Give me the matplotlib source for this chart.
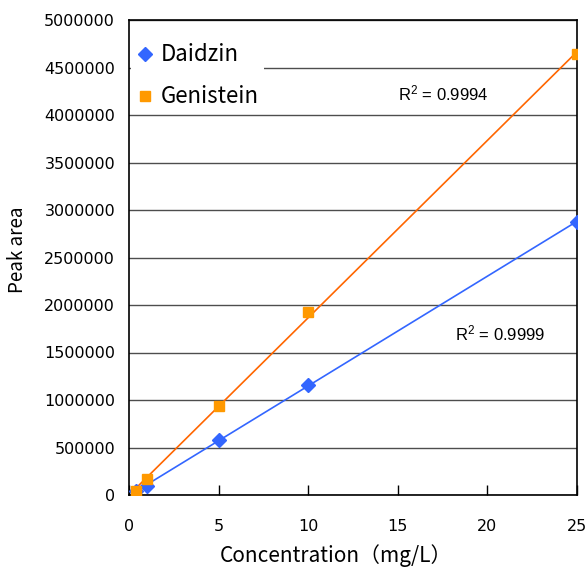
import numpy as np
import matplotlib
matplotlib.use('Agg')
import matplotlib.pyplot as plt

plt.rcParams['font.family'] = ['Noto Sans CJK JP', 'DejaVu Sans']
plt.rcParams['mathtext.fontset'] = 'custom'
plt.rcParams['mathtext.rm'] = 'Liberation Sans'
plt.rcParams['mathtext.it'] = 'Liberation Sans'

#data
conc = [0.4, 1, 5, 10, 25]
daidzin = [45000, 90000, 580000, 1160000, 2875000]
genistein = [45000, 170000, 940000, 1930000, 4640000]
r2_labels = ['R$^2$ = 0.9999', 'R$^2$ = 0.9994']
r2_pos = [(18.2, 1.70e6), (15.0, 4.23e6)]
xticks = [0, 5, 10, 15, 20, 25]
yticks = np.arange(0, 5000001, 500000)

blue = '#3366FF'
orange_pt = '#FF9900'
orange_ln = '#FF6600'

fig = plt.figure(figsize=(5.88, 5.70), dpi=100)
ax = fig.add_axes([129/588, 1-495/570, 448/588, 475/570])

x = np.array(conc)
xs = np.array([x.min(), x.max()])
for ys, c_ln, c_pt, mk, ms, name in [(daidzin, blue, blue, 'D', 7.5, 'Daidzin'),
                                   (genistein, orange_ln, orange_pt, 's', 7, 'Genistein')]:
    k, b = np.polyfit(x, ys, 1)
    ax.plot(xs, k*xs + b, color=c_ln, lw=1.2, zorder=3)
    ax.plot(x, ys, ls='none', marker=mk, ms=ms, color=c_pt, mec=c_pt, label=name, zorder=4)

for txt, (tx, ty) in zip(r2_labels, r2_pos):
    ax.text(tx, ty, txt, fontsize=12, family='Liberation Sans', va='center', ha='left')

ax.set_xlim(0, 25)
ax.set_ylim(0, 5000000)
ax.set_xticks(xticks)
ax.set_yticks(yticks)
ax.set_yticklabels([f'{v:d}' for v in yticks])
ax.grid(axis='y', color='#4d4d4d', lw=1)
ax.set_axisbelow(True)
ax.tick_params(axis='x', direction='in', length=7, width=1, pad=17, labelsize=11.5,
               labelfontfamily='DejaVu Sans')
ax.tick_params(axis='y', direction='in', length=0, pad=10, labelsize=11.5,
               labelfontfamily='DejaVu Sans')
for s in ax.spines.values():
    s.set_color('black')
    s.set_linewidth(1.2)

ax.set_xlabel('Concentration（mg/L）', fontsize=15)
ax.xaxis.set_label_coords((336-129)/448, -(544-495)/475)
ax.set_ylabel('Peak area', fontsize=13.5)
ax.yaxis.set_label_coords(-(129-28)/448, (495-250)/475)

leg = ax.legend(loc='upper left', bbox_to_anchor=(0.005, 0.96), fontsize=16,
                frameon=True, fancybox=False, edgecolor='none', framealpha=1,
                handlelength=0.8, handletextpad=0.35, labelspacing=0.85,
                borderpad=0.2, borderaxespad=0)

fig.savefig('out.png', dpi=100)
